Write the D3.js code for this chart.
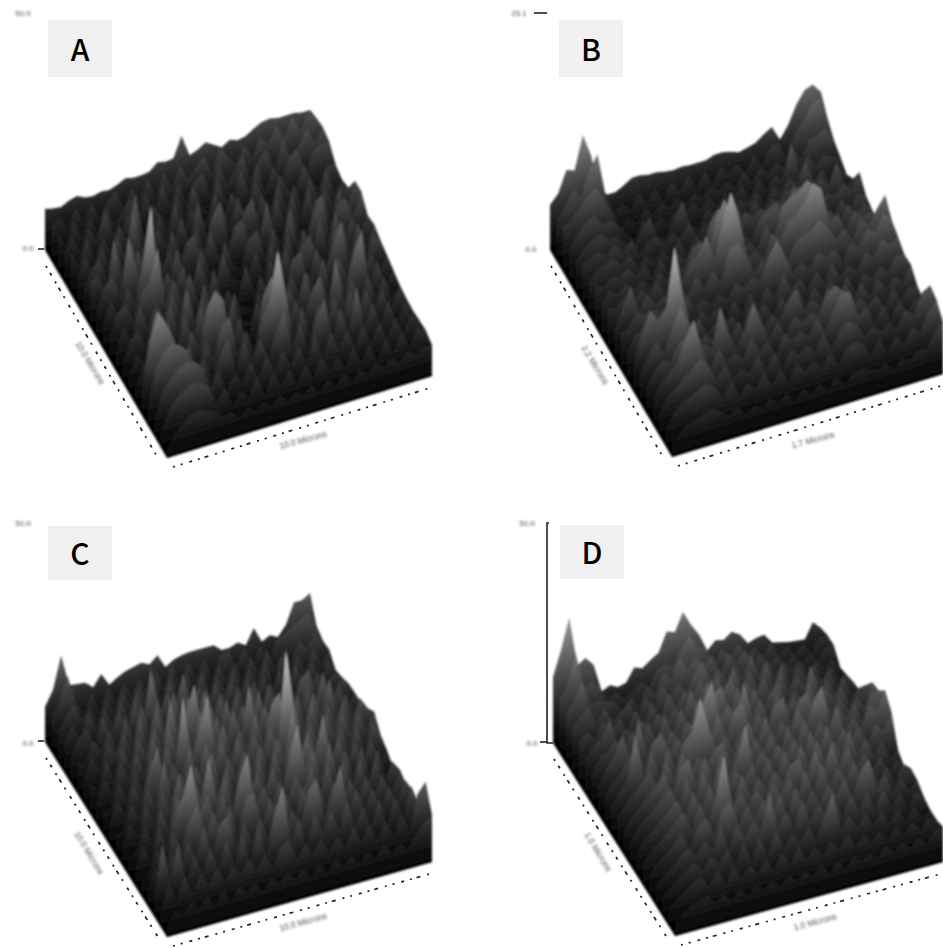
<!DOCTYPE html>
<html>
<head>
<meta charset="utf-8">
<script src="https://cdn.jsdelivr.net/npm/d3@7.9.0/dist/d3.min.js"></script>
<style>
html, body { margin: 0; padding: 0; background: #fff; overflow: hidden; }
svg { display: block; }
</style>
</head>
<body>
<svg id="chart" width="943" height="948"></svg>
<script>
// surface heights, back row first, left column first
const heightsA = [
[41,39,38,42,44,40,39,41,40,43,47,45,45,46,53,51,52,72,50,53,58,53,48,53,50,52,57,61,62,60,60,60,58,58],
[34,42,28,44,30,46,28,42,50,30,48,34,52,32,54,36,56,40,50,58,38,62,48,40,56,42,60,50,66,52,70,54,68,61],
[38,24,46,28,44,26,50,30,40,52,30,50,28,56,32,52,30,48,54,30,58,36,46,60,32,50,58,34,64,40,52,66,50,63],
[30,44,26,48,32,60,36,30,52,34,26,50,38,28,54,30,58,34,26,56,36,28,58,34,60,30,52,36,56,62,34,54,60,59],
[42,26,50,28,46,30,54,34,80,36,28,52,30,58,28,48,34,30,56,26,52,36,28,56,36,26,54,38,30,58,36,30,50,47],
[28,48,24,52,30,56,32,78,38,26,52,36,30,56,26,66,32,26,54,30,58,34,26,54,30,58,32,54,28,56,32,60,32,43],
[24,44,52,26,56,32,58,36,60,36,26,58,32,26,54,30,58,72,32,26,54,66,32,26,58,30,56,30,58,26,54,34,50,46],
[44,50,26,80,34,28,62,34,64,38,52,26,54,60,28,58,32,26,56,60,28,32,70,34,28,58,32,26,56,60,30,60,38,64],
[26,48,56,36,90,56,30,60,36,30,64,34,26,58,32,24,56,30,24,52,58,28,56,26,68,36,28,56,72,30,58,62,42,64],
[22,46,24,54,36,74,128,36,56,40,58,30,60,34,28,58,30,26,22,50,26,54,28,56,28,58,30,62,32,64,34,54,36,51],
[20,44,50,32,56,66,96,38,60,36,62,32,26,58,30,26,22,52,26,20,50,34,56,24,54,62,32,26,58,66,32,60,34,53],
[18,42,26,56,34,54,38,60,36,58,26,60,30,24,46,28,24,20,50,30,58,26,56,62,30,60,36,56,78,36,58,28,56,48],
[16,38,46,28,58,30,62,32,72,36,60,28,50,30,54,24,20,46,28,56,26,54,34,52,32,62,28,58,36,62,32,52,30,44],
[16,36,24,52,26,58,28,60,30,64,30,66,26,60,24,20,50,28,60,26,56,34,66,32,54,30,60,36,68,90,32,54,28,40],
[14,34,48,30,66,28,24,56,36,74,88,76,30,54,24,20,68,84,70,30,54,32,56,70,34,84,36,58,32,56,30,50,26,36],
[18,70,98,84,66,38,54,26,54,34,64,70,30,52,26,58,74,122,76,28,58,26,56,26,58,28,60,28,56,32,52,26,46,34],
[18,54,68,74,70,62,36,50,24,48,62,26,54,32,52,30,54,72,32,54,26,56,72,28,58,30,74,32,52,28,50,24,44,33],
[14,42,52,60,64,62,54,30,46,22,38,26,44,26,46,28,46,28,46,26,52,26,50,30,46,28,46,26,44,26,44,26,42,34],
[12,34,44,50,54,52,46,26,40,20,32,22,42,20,40,24,38,22,38,22,40,24,36,22,40,22,38,20,40,22,42,22,40,35],
[10,22,30,36,38,34,32,24,26,18,26,20,26,20,28,20,26,20,28,18,28,20,30,20,28,22,30,24,30,24,32,26,32,31]
];
const heightsB = [
[45,54,75,72,105,82,45,38,38,42,47,47,45,45,43,42,43,42,42,42,45,45,43,40,42,44,50,55,40,52,70,82,85,75],
[40,52,66,56,80,94,50,30,38,28,42,30,42,28,44,32,46,30,44,30,44,34,42,30,46,32,48,50,32,54,64,78,82,60],
[44,50,58,68,74,60,44,26,34,26,38,30,38,32,38,30,38,32,40,34,40,32,46,32,44,36,44,36,52,40,56,58,64,49],
[34,46,54,60,48,50,42,30,24,40,30,38,30,40,32,42,34,42,32,42,34,44,30,46,32,44,38,72,40,54,42,50,46,43],
[32,42,48,52,44,44,36,28,42,54,32,28,44,60,32,28,44,36,44,36,44,38,46,32,46,40,50,42,62,40,48,34,46,36],
[40,44,48,42,50,40,50,34,42,46,36,44,36,50,34,44,36,52,44,50,34,52,38,48,44,52,46,54,44,54,44,64,38,43],
[34,42,46,50,40,48,34,42,34,42,32,48,32,46,38,56,40,48,40,56,48,54,46,56,48,68,50,56,40,50,44,54,46,60],
[42,36,44,42,48,38,46,32,48,32,48,38,52,36,68,80,64,38,46,38,56,64,68,52,74,76,72,46,52,36,52,38,52,48],
[34,44,38,46,38,44,34,48,36,50,42,58,66,52,84,100,78,42,50,40,62,46,76,82,84,94,86,54,56,40,58,44,54,44],
[40,38,46,38,48,40,52,38,50,44,60,66,82,56,92,118,90,46,52,44,64,56,72,76,86,102,94,58,64,44,62,54,56,43],
[30,48,68,40,54,42,46,44,48,42,58,42,58,44,74,78,66,44,54,46,52,44,60,66,68,76,66,52,60,46,64,56,70,81],
[36,40,52,48,50,46,48,40,54,40,46,38,46,38,52,44,52,46,68,82,64,44,52,44,58,50,56,40,56,50,66,60,76,67],
[28,44,46,48,46,62,42,46,32,48,38,46,30,48,32,50,34,52,38,58,42,50,36,52,38,54,38,48,40,56,48,64,56,61],
[30,56,76,64,74,132,82,46,52,36,44,38,46,30,48,40,48,32,50,34,52,34,50,36,52,34,50,32,48,40,50,42,56,54],
[28,44,56,42,66,84,62,42,48,40,54,36,52,32,50,34,48,40,56,66,42,50,42,58,40,56,38,52,36,52,38,48,40,55],
[26,40,48,44,60,66,48,52,44,84,56,38,54,78,56,38,52,36,52,44,50,46,64,70,62,42,50,40,48,34,50,36,46,45],
[24,38,46,54,76,92,60,38,56,40,46,38,56,40,48,32,50,42,48,40,56,40,58,74,72,46,52,34,50,32,48,34,44,41],
[20,36,42,50,56,64,54,38,50,34,42,34,50,32,48,30,46,38,44,36,52,34,50,56,50,36,44,36,42,34,50,42,62,67],
[16,30,38,42,46,50,44,32,44,28,38,30,44,28,42,26,42,32,40,30,44,28,42,46,42,28,42,26,40,30,44,36,54,63],
[12,22,28,30,34,36,30,24,30,20,26,22,28,22,28,18,28,20,28,20,30,20,28,30,28,24,28,20,28,24,32,30,44,52]
];
const heightsC = [
[35,50,82,50,49,48,41,52,39,44,48,50,52,48,55,41,46,48,49,49,49,49,42,42,45,40,55,39,43,39,49,69,69,74],
[36,48,72,44,30,48,28,50,32,48,34,50,32,52,34,54,30,52,34,50,30,48,52,34,50,30,48,28,48,52,58,62,66,52],
[30,44,54,36,46,30,50,34,52,36,54,38,58,30,56,34,54,32,52,30,52,34,50,30,52,32,54,34,46,34,54,44,58,47],
[30,46,30,54,34,52,36,56,38,60,40,64,36,62,40,58,32,60,34,54,36,56,34,52,36,56,28,56,30,52,34,54,36,48],
[26,42,50,30,56,38,58,36,64,40,92,44,62,46,78,40,60,32,60,40,58,36,56,36,54,30,54,28,56,32,54,30,50,38],
[30,28,48,36,54,32,64,36,70,40,72,38,74,44,64,44,68,46,60,34,62,36,62,36,56,36,54,36,56,38,54,34,48,41],
[24,44,30,54,40,60,36,72,40,76,48,74,44,78,44,78,44,68,44,66,36,64,36,66,38,64,36,62,70,40,56,36,52,45],
[28,24,50,28,58,36,62,44,68,44,92,46,74,100,50,74,44,76,42,66,46,76,42,66,46,68,36,68,46,76,38,60,34,46],
[22,42,28,54,36,60,38,72,42,78,48,82,46,84,48,74,42,76,50,96,48,72,46,74,42,72,40,70,46,80,42,60,38,46],
[24,24,46,30,54,32,64,36,70,42,116,50,74,110,54,76,44,66,46,78,44,82,92,46,70,46,76,44,66,46,66,42,64,51],
[20,42,26,52,36,62,84,40,62,44,76,40,74,50,74,42,72,48,70,46,72,50,145,86,44,66,44,70,46,68,44,64,42,58],
[18,24,46,30,58,38,80,40,64,42,66,44,76,40,66,44,68,46,70,38,72,50,96,44,70,46,70,38,64,40,62,34,60,45],
[18,40,24,52,32,62,42,74,40,62,42,70,44,68,38,68,36,70,38,72,40,76,54,78,54,94,46,68,36,58,36,56,30,40],
[16,22,44,26,56,36,68,46,80,54,96,48,72,40,74,42,66,44,68,36,70,104,56,74,42,76,40,64,34,62,32,56,28,32],
[16,38,22,50,32,62,76,106,54,70,44,68,36,76,100,44,64,40,64,42,66,48,70,36,68,36,66,34,64,32,60,28,52,41],
[14,20,42,24,54,34,62,76,42,64,36,66,34,68,72,36,62,38,62,32,64,42,62,38,60,36,58,36,56,34,54,30,50,36],
[18,36,22,46,28,54,34,64,32,62,68,34,56,34,58,32,66,34,56,36,70,80,38,60,86,36,58,34,54,30,52,32,54,41],
[20,70,32,66,24,50,30,52,30,56,30,56,28,60,30,68,94,34,58,28,58,36,56,34,62,32,52,28,54,26,52,28,58,36],
[14,40,22,44,24,42,28,42,28,40,30,42,30,42,28,46,50,28,42,30,42,28,40,28,46,28,44,24,42,24,44,26,60,70],
[10,24,18,28,20,30,18,30,18,30,22,30,18,30,22,30,22,30,18,30,18,30,22,28,20,28,20,32,20,28,20,32,42,47]
];
const heightsD = [
[66,91,121,71,76,67,38,42,38,40,53,50,56,61,80,77,95,80,68,50,58,56,62,57,46,49,50,40,38,36,35,34,49,41],
[54,66,96,56,64,54,40,46,36,42,48,42,56,60,56,70,82,68,64,46,60,50,60,46,52,40,52,38,44,34,42,32,44,44],
[50,60,78,52,54,50,48,36,48,38,54,46,64,56,74,62,70,58,68,46,66,52,64,46,56,42,50,36,46,34,42,34,44,44],
[46,54,62,44,56,42,48,56,36,58,40,64,50,62,50,66,76,54,64,50,62,50,70,48,60,42,54,42,50,36,46,36,42,32],
[42,50,40,56,42,54,40,58,40,62,40,66,50,64,56,72,46,72,48,74,50,66,46,70,46,64,42,56,44,54,36,48,34,35],
[34,46,50,68,42,54,44,58,46,60,48,62,48,76,50,80,52,66,76,50,66,52,68,44,70,46,60,48,58,46,56,38,48,38],
[30,44,48,58,44,62,42,66,44,70,44,72,46,74,48,76,82,50,76,46,72,48,62,70,46,58,44,78,48,60,44,58,38,40],
[28,42,54,72,46,84,48,60,50,64,52,68,58,84,102,60,74,58,92,54,70,48,72,48,64,50,74,48,64,50,60,40,54,55],
[28,40,46,60,68,44,68,76,54,66,50,78,82,56,80,54,78,84,54,70,48,72,78,48,72,76,50,64,50,62,46,58,46,68],
[26,40,48,92,48,72,44,70,48,72,80,112,82,54,68,52,66,74,50,76,50,66,52,76,52,78,90,52,66,50,64,44,68,70],
[26,38,46,54,64,44,72,50,74,50,66,54,68,74,50,66,52,68,54,70,46,72,50,74,52,68,52,78,50,62,48,70,62,80],
[24,36,44,52,60,70,46,72,78,50,76,48,74,50,66,96,52,66,52,68,54,70,46,72,48,74,50,66,52,64,42,62,52,68],
[24,36,42,50,58,66,44,70,46,72,48,74,50,66,52,68,44,70,46,72,48,74,50,74,50,68,52,74,48,62,42,54,36,41],
[22,34,40,48,56,64,44,68,46,70,46,70,46,72,48,64,50,66,52,68,72,50,76,52,78,54,70,46,60,40,52,32,44,34],
[22,32,38,46,54,62,42,66,44,68,108,52,66,50,64,50,66,52,68,44,70,46,72,48,64,50,66,42,58,38,52,34,50,43],
[20,30,36,44,52,36,56,62,42,66,72,46,62,48,64,42,66,42,68,44,60,46,62,48,64,42,66,76,44,56,36,48,34,41],
[20,28,34,42,48,38,50,40,60,38,58,44,58,46,82,44,58,38,66,42,56,44,56,36,58,38,56,36,54,34,46,28,42,35],
[18,26,32,38,44,34,46,36,48,30,50,30,52,32,54,34,46,36,48,34,54,76,36,48,34,46,32,44,30,42,28,40,26,32],
[16,24,30,36,40,28,44,26,42,28,38,28,40,26,42,28,44,28,38,28,40,30,42,28,38,28,36,26,36,26,36,26,36,32],
[12,20,26,28,32,22,28,20,30,20,28,22,28,20,28,22,28,22,32,20,30,20,30,24,28,22,32,22,32,22,32,22,34,35]
];

const panelNames = ['A', 'B', 'C', 'D'];
const topLabels = ['50.0', '25.1', '50.0', '50.0'];
const zeroLabels = ['0.0', '0.0', '0.0', '0.0'];
const sideLabels = ['10.0 Microns', '2.2 Microns', '10.0 Microns', '1.0 Microns'];
const frontLabels = ['10.0 Microns', '1.7 Microns', '10.0 Microns', '1.0 Microns'];

const allHeights = [heightsA, heightsB, heightsC, heightsD];

// where each plot sits on the page: left, front and right corner of the floor
const layouts = [
    { L: [45, 250], F: [167, 458], R: [432, 376], box: [48, 20, 64, 57], top: [23, 13], zero: [28, 248], side: [90, 363], front: [303, 440], tick: [38, 44] },
    { L: [550, 250], F: [672, 457], R: [943, 374], box: [559, 20, 64, 57], top: [519, 13], zero: [531, 249], side: [595, 365], front: [813, 440], tick: [534, 547] },
    { L: [45, 742], F: [167, 937], R: [432, 862], box: [48, 526, 64, 54], top: [23, 523], zero: [28, 743], side: [89, 853], front: [303, 922], tick: [38, 44] },
    { L: [553, 743], F: [675, 936], R: [943, 862], box: [560, 525, 64, 54], top: [527, 523], zero: [532, 743], side: [598, 852], front: [815, 922], tick: [540, 547] }
];

const svg = d3.select('#chart');
const defs = svg.append('defs');

defs.append('filter').attr('id', 'soft')
    .attr('x', '-5%').attr('y', '-5%').attr('width', '110%').attr('height', '110%')
    .append('feGaussianBlur').attr('stdDeviation', 0.8);
defs.append('filter').attr('id', 'softText')
    .append('feGaussianBlur').attr('stdDeviation', 0.8);
defs.append('filter').attr('id', 'softDots')
    .append('feGaussianBlur').attr('stdDeviation', 0.4);

// low ground stays dark, only the tall spikes get light
const grey = d3.scalePow().exponent(1.25).domain([0, 150]).range([4, 215]);
const stops = [0, 0.05, 0.1, 0.2, 0.3, 0.4, 0.5, 0.6, 0.7, 0.8, 0.9, 1];

function drawPanel(heights, p, k) {
    const nRows = heights.length;
    const nCols = heights[0].length;
    const u = d3.scaleLinear().domain([0, nCols - 1]).range([0, 1]);
    const v = d3.scaleLinear().domain([0, nRows - 1]).range([1, 0]);
    const z = d3.scaleLinear().domain([0, 150]).range([0, 150]);
    const depth = d3.scaleLinear().domain([0, nRows - 1]).range([0.95, 1.08]);

    const ax = [p.R[0] - p.F[0], p.R[1] - p.F[1]];
    const ay = [p.L[0] - p.F[0], p.L[1] - p.F[1]];
    const floor = (i, j) => [
        p.F[0] + u(j) * ax[0] + v(i) * ay[0],
        p.F[1] + u(j) * ax[1] + v(i) * ay[1]
    ];
    const slope = ax[1] / ax[0];
    const line = d3.line();

    const plot = svg.append('g').attr('filter', 'url(#soft)');

    // painter's order, back row first
    heights.forEach((row, i) => {
        const top = row.map((h, j) => {
            const b = floor(i, j);
            return [b[0], b[1] - z(h)];
        });
        const next = Math.min(i + 1, nRows - 1);
        const nextEnd = floor(next, nCols - 1);
        const foot = [
            [nextEnd[0], nextEnd[1] - z(heights[next][nCols - 1])], // keeps the right edge from stepping
            nextEnd,
            floor(next, 0),
            floor(i, 0)
        ];

        // brightness follows height above this row's floor line
        const start = floor(i, 0);
        const H = z(150);
        const scale = H / (slope * slope + 1);
        const id = `row${k}_${i}`;
        const grad = defs.append('linearGradient').attr('id', id)
            .attr('gradientUnits', 'userSpaceOnUse')
            .attr('x1', start[0]).attr('y1', start[1])
            .attr('x2', start[0] + slope * scale).attr('y2', start[1] - scale);
        stops.forEach(t => {
            const c = Math.min(235, grey(150 * t) * depth(i));
            grad.append('stop').attr('offset', t).attr('stop-color', d3.rgb(c, c, c));
        });

        plot.append('path')
            .attr('d', line(top.concat(foot)) + 'Z')
            .attr('fill', `url(#${id})`);
    });

    // dotted axes along the floor edges
    const axes = svg.append('g').attr('filter', 'url(#softDots)')
        .attr('fill', 'none').attr('stroke', '#222').attr('stroke-width', 1.7);
    axes.append('path')
        .attr('d', line([[p.L[0] + 1, p.L[1] + 16], [p.F[0] - 9, p.F[1]]]))
        .attr('stroke-dasharray', '2 6 3 7 2 5 4 6 2 8 3 6');
    axes.append('path')
        .attr('d', line([[p.F[0] + 6, p.F[1] + 9], [p.R[0] + 1, p.R[1] + 11]]))
        .attr('stroke-dasharray', '2 6 2 7 3 6 2 5 4 7');

    // z axis ticks
    svg.append('line')
        .attr('x1', p.tick[0]).attr('x2', p.tick[1])
        .attr('y1', k === 1 ? p.top[1] : p.L[1] - 1).attr('y2', k === 1 ? p.top[1] : p.L[1] - 1)
        .attr('stroke', '#222').attr('stroke-width', 1.6);
    if (k === 3) {
        svg.append('path')
            .attr('d', line([[p.L[0] - 4, p.top[1]], [p.L[0] - 6, p.top[1]], [p.L[0] - 6, p.L[1]], [p.L[0], p.L[1]]]))
            .attr('fill', 'none').attr('stroke', '#222').attr('stroke-width', 1.6);
    }

    // blurry tick and axis text
    const small = svg.append('g').attr('filter', 'url(#softText)')
        .attr('font-family', 'Liberation Sans, sans-serif')
        .attr('fill', '#555')
        .attr('text-anchor', 'middle').attr('dominant-baseline', 'central');
    small.append('text').attr('x', p.top[0]).attr('y', p.top[1]).attr('font-size', 8).text(topLabels[k]);
    small.append('text').attr('x', p.zero[0]).attr('y', p.zero[1]).attr('font-size', 8).text(zeroLabels[k]);
    small.append('text').attr('font-size', 8.5)
        .attr('transform', `translate(${p.side[0]},${p.side[1]}) rotate(59)`)
        .text(sideLabels[k]);
    small.append('text').attr('font-size', 8.5)
        .attr('transform', `translate(${p.front[0]},${p.front[1]}) rotate(-15)`)
        .text(frontLabels[k]);

    // panel letter
    svg.append('rect')
        .attr('x', p.box[0]).attr('y', p.box[1])
        .attr('width', p.box[2]).attr('height', p.box[3])
        .attr('fill', '#f0f0f0');
    svg.append('text')
        .attr('x', p.box[0] + p.box[2] / 2).attr('y', p.box[1] + p.box[3] / 2 - 1)
        .attr('text-anchor', 'middle').attr('dominant-baseline', 'central')
        .attr('font-family', 'Noto Sans CJK JP, Noto Sans, sans-serif')
        .attr('font-weight', 500).attr('font-size', 30).attr('fill', '#000')
        .text(panelNames[k]);
}

allHeights.forEach((heights, k) => drawPanel(heights, layouts[k], k));
</script>
</body>
</html>
